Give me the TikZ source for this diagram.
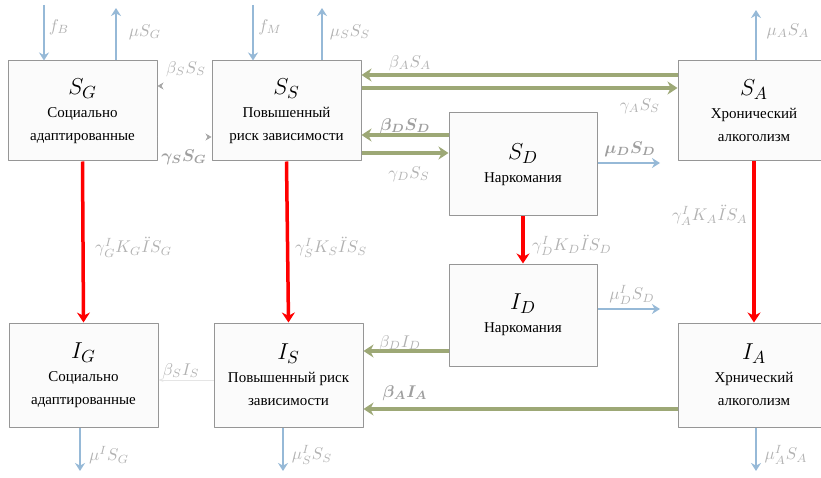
\documentclass[tikz,border=0pt]{standalone}
\usepackage{amsmath,amssymb}
\usepackage{fontspec}
\setmainfont{Liberation Serif}
\newfontfamily\boxfont{LiberationSerif}[Extension=.ttf, UprightFont=*-Regular]
\usetikzlibrary{arrows.meta,positioning}
\definecolor{flowblue}{RGB}{150,185,215}
\definecolor{flowgreen}{RGB}{157,168,118}
\definecolor{boxline}{RGB}{150,150,150}
\newcommand{\boxsym}[2]{\scalebox{1.6}{$#1_{#2}$}}
\newcommand{\rate}[1]{\scalebox{1.7}{$#1$}}
\tikzset{
  stbox/.style={draw=boxline, fill=gray!3, line width=1pt, inner sep=0pt, align=center,
    minimum width=149pt, minimum height=100pt, font=\boxfont\fontsize{15}{23}\selectfont},
  bluearr/.style={draw=flowblue, line width=2.4pt, -{Stealth[length=8pt,width=10pt]}},
  greenarr/.style={draw=flowgreen, line width=3.2pt, -{Stealth[length=10pt,width=13pt]}},
  redarr/.style={draw=red, line width=3.5pt, -{Stealth[length=10pt,width=13pt]}},
  thinarr/.style={draw=gray!70, double=white, line width=0.6pt, double distance=1.4pt,
    -{Stealth[length=6pt,width=7pt]}},
  lbl/.style={text=gray!60, inner sep=1pt, font=\normalsize},
  lbldark/.style={text=gray!75, inner sep=1pt, font=\normalsize\boldmath}
}
\begin{document}
\begin{tikzpicture}[x=1pt, y=1pt, line join=round]
    \clip (0,0) rectangle (821,477);
    \useasboundingbox (0,0) rectangle (821,477);
    % upper row
    \node[stbox] (SG) at (82.5,366) {\boxsym{S}{G}\\Социально\\адаптированные};
    \node[stbox] (SS) at (286.5,366) {\boxsym{S}{S}\\Повышенный\\риск зависимости};
    \node[stbox, minimum width=152pt] (SA) at (754,366) {\boxsym{S}{A}\\Хронический\\алкоголизм};
    \node[stbox, minimum width=148pt, minimum height=103pt] (SD) at (523,312.5) {\boxsym{S}{D}\\Наркомания};
    % lower row
    \node[stbox, minimum width=148pt, minimum height=102pt] (ID) at (523,162) {\boxsym{I}{D}\\Наркомания};
    \node[stbox, minimum height=104pt] (IG) at (83.5,102) {\boxsym{I}{G}\\Социально\\адаптированные};
    \node[stbox, minimum height=104pt] (IS) at (288.5,102) {\boxsym{I}{S}\\Повышенный риск\\зависимости};
    \node[stbox, minimum width=152pt, minimum height=104pt] (IA) at (754,102) {\boxsym{I}{A}\\Хрнический\\алкоголизм};

    % free ends of the outer flows
    \coordinate (fB) at (44,472);
    \coordinate (muG) at (116,469);
    \coordinate (fM) at (253,472);
    \coordinate (muS) at (322,469);
    \coordinate (muA) at (756,467);
    \coordinate (muD) at (660,314);
    \coordinate (muID) at (660,168);
    \coordinate (muIG) at (80,6);
    \coordinate (muIS) at (283,6);
    \coordinate (muIA) at (756,6);

    % inflow and death
    \draw[bluearr] (fB) -- (fB |- SG.north);
    \draw[bluearr] (muG |- SG.north) -- (muG);
    \draw[bluearr] (fM) -- (fM |- SS.north);
    \draw[bluearr] (muS |- SS.north) -- (muS);
    \draw[bluearr] (muA |- SA.north) -- (muA);
    \draw[bluearr] (SD.east |- muD) -- (muD);
    \draw[bluearr] (ID.east |- muID) -- (muID);
    \draw[bluearr] (muIG |- IG.south) -- (muIG);
    \draw[bluearr] (muIS |- IS.south) -- (muIS);
    \draw[bluearr] (muIA |- IA.south) -- (muIA);

    % transitions between susceptible groups
    \draw[thinarr] ([yshift=25pt]SS.west) -- ([yshift=25pt]SG.east);
    \draw[thinarr] ([yshift=-26pt]SG.east) -- ([yshift=-26pt]SS.west);
    \draw[greenarr] ([yshift=36pt]SA.west) -- ([yshift=36pt]SS.east);
    \draw[greenarr] ([yshift=23pt]SS.east) -- ([yshift=23pt]SA.west);
    \draw[greenarr] ([yshift=29.5pt]SD.west) -- ([yshift=-24pt]SS.east);
    \draw[greenarr] ([yshift=-42pt]SS.east) -- ([yshift=11.5pt]SD.west);

    % infection
    \draw[redarr] (SG.south) -- (IG.north);
    \draw[redarr] (SS.south) -- (IS.north);
    \draw[redarr] (SD.south) -- (ID.north);
    \draw[redarr] (SA.south) -- (IA.north);

    % transitions between infected groups
    \draw[draw=gray!20, line width=0.5pt, -{Stealth[length=5pt]}] ([yshift=-5pt]IS.west) -- ([yshift=-5pt]IG.east);
    \draw[greenarr] ([yshift=-36pt]ID.west) -- ([yshift=24pt]IS.east);
    \draw[greenarr] ([yshift=-34pt]IA.west) -- ([yshift=-34pt]IS.east);

    % rates
    \node[lbl] (lfB) at (59,450) {\rate{f_B}};
    \node[lbl] (lmuG) at (145,445) {\rate{\mu S_G}};
    \node[lbl] (lfM) at (270,450) {\rate{f_M}};
    \node[lbl] (lmuS) at (350,445) {\rate{\mu_S S_S}};
    \node[lbl] (lmuA) at (788,446) {\rate{\mu_A S_A}};
    \node[lbl] (lbS) at (186,408) {\rate{\beta_S S_S}};
    \node[lbldark] (lgS) at (184,320) {\rate{\gamma_S S_G}};
    \node[lbl] (lbA) at (410,414) {\rate{\beta_A S_A}};
    \node[lbl] (lgA) at (640,371) {\rate{\gamma_A S_S}};
    \node[lbldark] (lbD) at (405,351) {\rate{\beta_D S_D}};
    \node[lbl] (lgD) at (409,303) {\rate{\gamma_D S_S}};
    \node[lbldark] (lmuD) at (630,328) {\rate{\mu_D S_D}};
    \node[lbl, anchor=west] (lkG) at (94,230) {\rate{\gamma^{I}_{G}K_{G}\ddot{I}S_{G}}};
    \node[lbl, anchor=west] (lkS) at (294,230) {\rate{\gamma^{I}_{S}K_{S}\ddot{I}S_{S}}};
    \node[lbl, anchor=west] (lkD) at (531,232) {\rate{\gamma^{I}_{D}K_{D}\ddot{I}S_{D}}};
    \node[lbl, anchor=east] (lkA) at (749,262) {\rate{\gamma^{I}_{A}K_{A}\ddot{I}S_{A}}};
    \node[lbl] (lmuID) at (632,182) {\rate{\mu^{I}_{D}S_{D}}};
    \node[lbl] (lbSI) at (181,106) {\rate{\beta_S I_S}};
    \node[lbl] (lbDI) at (400,134) {\rate{\beta_D I_D}};
    \node[lbldark] (lbAI) at (405,84) {\rate{\beta_A I_A}};
    \node[lbl] (lmuIG) at (109,22) {\rate{\mu^{I} S_G}};
    \node[lbl] (lmuIS) at (312,22) {\rate{\mu^{I}_{S} S_S}};
    \node[lbl] (lmuIA) at (786,22) {\rate{\mu^{I}_{A} S_A}};
\end{tikzpicture}
\end{document}
